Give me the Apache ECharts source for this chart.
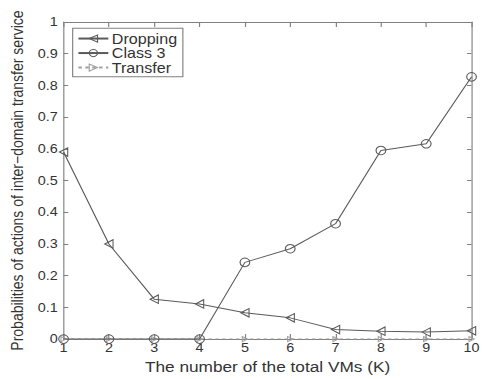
<!DOCTYPE html>
<html>
<head>
<meta charset="utf-8">
<script src="https://cdn.jsdelivr.net/npm/echarts@6/dist/echarts.min.js"></script>
<style>
  html, body { margin: 0; padding: 0; background: #fff; overflow: hidden; }
  #wrap { width: 483px; height: 379px; overflow: hidden; }
  /* the figure is laid out narrow and widened, like the printed plot */
  #chart { width: 420px; height: 379px; transform: scaleX(1.15); transform-origin: 0 0; }
</style>
</head>
<body>
<div id="wrap"><div id="chart"></div></div>
<script>
// Number of total VMs (K)
const vmCounts = [1, 2, 3, 4, 5, 6, 7, 8, 9, 10];
// Probabilities of each action
const dropping = [0.59, 0.30, 0.126, 0.111, 0.083, 0.067, 0.030, 0.025, 0.022, 0.026];
const class3   = [0, 0, 0, 0, 0.242, 0.285, 0.364, 0.595, 0.616, 0.827];
const transfer = [0, 0, 0, 0, 0, 0, 0, 0, 0, 0];
const yTicks = [0, 0.1, 0.2, 0.3, 0.4, 0.5, 0.6, 0.7, 0.8, 0.9, 1];

const pairs = arr => vmCounts.map((k, i) => [k, arr[i]]);
const FONT = 'Liberation Sans, Arial, sans-serif';
const INK = '#333';
const AXIS = '#808080';
const LINE = '#5a5a5a';
const LIGHT = '#a0a0a0';

const tickFmt = v => {
  const t = yTicks.find(y => Math.abs(y - v) < 1e-9);
  return t === undefined ? '' : String(+t.toFixed(1));
};

const baseX = {
  type: 'value', min: 1, max: 10, interval: 1,
  axisLine: { onZero: false, lineStyle: { color: AXIS } },
  axisTick: { inside: true, length: 5, lineStyle: { color: AXIS } },
  splitLine: { show: false }
};
const baseY = {
  type: 'value', min: 0, max: 1, interval: 0.1,
  axisLine: { onZero: false, lineStyle: { color: AXIS } },
  axisTick: { inside: true, length: 4, lineStyle: { color: AXIS } },
  splitLine: { show: false }
};

const hollow = stroke => ({ color: 'none', borderColor: stroke, borderWidth: 1 });

const chart = echarts.init(document.getElementById('chart'), null, { renderer: 'svg' });
chart.setOption({
  backgroundColor: '#fff',
  animation: false,
  grid: { left: 49.6, right: 7.8, top: 22, bottom: 35 },
  legend: {
    orient: 'vertical',
    left: 63.2, top: 28.3,
    padding: [3, 5, 2, 4],
    itemGap: 0,
    itemWidth: 26, itemHeight: 9,
    borderColor: AXIS, borderWidth: 1,
    backgroundColor: '#fff',
    textStyle: { fontFamily: FONT, fontSize: 14, color: INK, lineHeight: 14.5, padding: [0, 0, 0, -2] },
    data: [
      { name: 'Dropping', itemStyle: hollow(LINE) },
      { name: 'Class 3', itemStyle: hollow(LINE) },
      { name: 'Transfer', itemStyle: hollow(LIGHT) }
    ]
  },
  xAxis: [
    Object.assign({}, baseX, {
      position: 'bottom',
      name: 'The number of the total VMs (K)',
      nameLocation: 'middle', nameGap: 15.5,
      nameTextStyle: { fontFamily: FONT, fontSize: 15, color: INK },
      axisLabel: { fontFamily: FONT, fontSize: 12.5, color: INK, margin: 2 }
    }),
    Object.assign({}, baseX, { position: 'top', axisLabel: { show: false } })
  ],
  yAxis: [
    Object.assign({}, baseY, {
      position: 'left',
      name: 'Probabilities of actions of inter\u2212domain transfer service',
      nameLocation: 'middle', nameGap: 27,
      nameTextStyle: { fontFamily: FONT, fontSize: 14, color: INK },
      axisLabel: { fontFamily: FONT, fontSize: 12.5, color: INK, margin: 5, formatter: tickFmt }
    }),
    Object.assign({}, baseY, { position: 'right', axisLabel: { show: false } })
  ],
  series: [
    {
      name: 'Dropping', type: 'line', data: pairs(dropping),
      symbol: 'triangle', symbolSize: [8.5, 7.2], symbolRotate: 90,
      lineStyle: { color: LINE, width: 1 },
      itemStyle: hollow(LINE), z: 3
    },
    {
      name: 'Class 3', type: 'line', data: pairs(class3),
      symbol: 'circle', symbolSize: 8.5,
      lineStyle: { color: LINE, width: 1 },
      itemStyle: hollow(LINE), z: 4
    },
    {
      name: 'Transfer', type: 'line', data: pairs(transfer),
      symbol: 'triangle', symbolSize: [5, 4.5], symbolRotate: -90,
      lineStyle: { color: LIGHT, width: 1, type: [3, 3] },
      itemStyle: hollow(LIGHT), z: 2
    }
  ]
});
</script>
</body>
</html>
